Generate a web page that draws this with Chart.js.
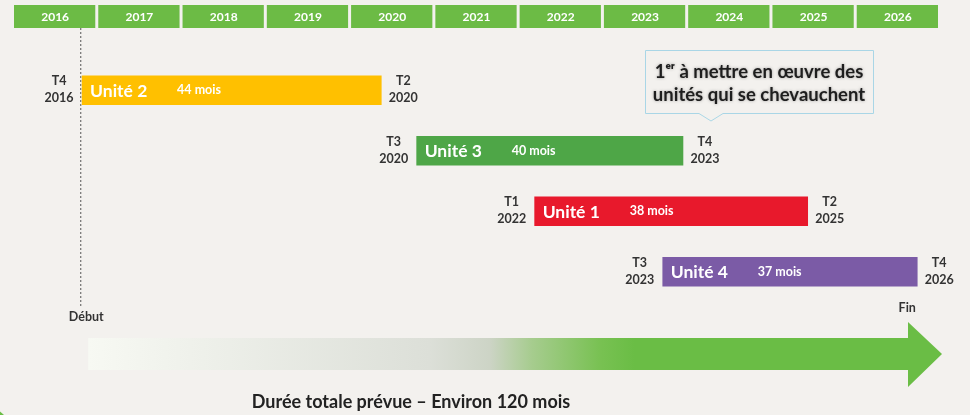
<!DOCTYPE html>
<html lang="fr">
<head>
<meta charset="utf-8">
<script src="https://cdn.jsdelivr.net/npm/chart.js@4/dist/chart.umd.min.js"></script>
<style>
body{margin:0;background:#f3f1ee;}
#wrap{width:970px;height:415px;position:relative;}
</style>
</head>
<body>
<div id="wrap"><canvas id="planning"></canvas></div>
<script>
var annees = [2016,2017,2018,2019,2020,2021,2022,2023,2024,2025,2026];
var unites = ['Unité 2','Unité 3','Unité 1','Unité 4'];
var debuts = [2016.82, 2020.79, 2022.19, 2023.71];
var fins = [2020.37, 2023.95, 2025.43, 2026.73];
var durees = [44, 40, 38, 37];
var etiquettesDebut = [['T4','2016'],['T3','2020'],['T1','2022'],['T3','2023']];
var etiquettesFin = [['T2','2020'],['T4','2023'],['T2','2025'],['T4','2026']];
var couleurs = ['#ffc000','#4ea647','#e8192c','#7b5ba6'];
var jalonDebut = 2016.81;
var jalonFin = 2026.73;
var bulle = ['1\u1d49\u02b3 à mettre en œuvre des','unités qui se chevauchent'];
var titreBas = 'Durée totale prévue – Environ 120 mois';

var police = 'Lato, "Open Sans", sans-serif';

var fond = {
  id: 'fond',
  beforeDatasetsDraw: function(chart){
    var ctx = chart.ctx, x = chart.scales.x;
    ctx.save();
    // bandeau des années
    annees.forEach(function(a){
      var x0 = x.getPixelForValue(a), x1 = x.getPixelForValue(a+1);
      ctx.fillStyle = '#6cbb45';
      ctx.fillRect(x0+1, 5, x1-x0-3, 23);
      ctx.fillStyle = '#ffffff';
      ctx.font = 'bold 12px ' + police;
      ctx.textAlign = 'center';
      ctx.textBaseline = 'middle';
      ctx.fillText(a, (x0+x1)/2, 17);
    });
    // ligne pointillée du début
    var xd = x.getPixelForValue(jalonDebut);
    ctx.strokeStyle = '#555';
    ctx.lineWidth = 1;
    ctx.setLineDash([2,2]);
    ctx.beginPath(); ctx.moveTo(xd-0.5, 28); ctx.lineTo(xd-0.5, 307); ctx.stroke();
    ctx.setLineDash([]);
    ctx.fillStyle = '#333';
    ctx.font = 'bold 12.5px ' + police;
    ctx.textAlign = 'center';
    ctx.fillText('Début', xd+5, 317);
    var xf = x.getPixelForValue(jalonFin);
    ctx.fillText('Fin', xf-10, 308);
    // flèche
    var xa = xd + 7, xt = x.getPixelForValue(2027) + 2, xb = xt - 34;
    var g = ctx.createLinearGradient(xa, 0, xt, 0);
    g.addColorStop(0, '#f7f9f3');
    g.addColorStop(0.12, '#eff1eb');
    g.addColorStop(0.4, '#dcdfd8');
    g.addColorStop(0.47, '#cdd4c6');
    g.addColorStop(0.52, '#a6cc8e');
    g.addColorStop(0.6, '#78c152');
    g.addColorStop(0.64, '#6abd45');
    g.addColorStop(1, '#6abd45');
    ctx.fillStyle = g;
    ctx.beginPath();
    ctx.moveTo(xa, 338); ctx.lineTo(xb, 338); ctx.lineTo(xb, 322);
    ctx.lineTo(xt, 354); ctx.lineTo(xb, 387); ctx.lineTo(xb, 370);
    ctx.lineTo(xa, 370); ctx.closePath(); ctx.fill();
    // titre du bas
    ctx.fillStyle = '#222';
    ctx.font = 'bold 18px ' + police;
    ctx.textAlign = 'center';
    ctx.fillText(titreBas, 411, 402);
    // bulle
    ctx.strokeStyle = '#a9d6e6';
    ctx.fillStyle = '#f3f1ee';
    ctx.beginPath();
    ctx.moveTo(645.5, 50.5); ctx.lineTo(873.5, 50.5); ctx.lineTo(873.5, 113.5);
    ctx.lineTo(723, 113.5); ctx.lineTo(711, 121); ctx.lineTo(699, 113.5);
    ctx.lineTo(645.5, 113.5); ctx.closePath(); ctx.fill(); ctx.stroke();
    ctx.font = 'bold 18.5px ' + police;
    ctx.fillStyle = '#1e1e1e';
    ctx.shadowColor = 'rgba(0,0,0,0.35)';
    ctx.shadowBlur = 3;
    ctx.fillText(bulle[0], 759, 72);
    ctx.fillText(bulle[1], 759, 95);
    ctx.restore();
    // coin vert
    ctx.save();
    ctx.fillStyle = '#6abd45';
    ctx.beginPath(); ctx.arc(-22, 440, 36, 0, Math.PI*2); ctx.fill();
    ctx.restore();
  }
};

var etiquettes = {
  id: 'etiquettes',
  afterDatasetsDraw: function(chart){
    var ctx = chart.ctx;
    ctx.save();
    chart.getDatasetMeta(0).data.forEach(function(b, i){
      var x0 = Math.min(b.base, b.x), x1 = Math.max(b.base, b.x), y = b.y;
      ctx.textBaseline = 'middle';
      ctx.textAlign = 'left';
      ctx.fillStyle = '#ffffff';
      ctx.font = 'bold 17.5px ' + police;
      ctx.fillText(unites[i], x0+8, y+1);
      ctx.font = 'bold 12.5px ' + police;
      ctx.fillText(durees[i] + ' mois', x0+95, y);
      ctx.fillStyle = '#333';
      ctx.font = 'bold 12.5px ' + police;
      ctx.textAlign = 'center';
      ctx.fillText(etiquettesDebut[i][0], x0-23, y-9);
      ctx.fillText(etiquettesDebut[i][1], x0-23, y+8);
      ctx.fillText(etiquettesFin[i][0], x1+22, y-9);
      ctx.fillText(etiquettesFin[i][1], x1+22, y+8);
    });
    ctx.restore();
  }
};

new Chart(document.getElementById('planning'), {
  type: 'bar',
  data: {
    labels: unites,
    datasets: [{
      data: unites.map(function(u, i){ return [debuts[i], fins[i]]; }),
      backgroundColor: couleurs,
      borderWidth: 0,
      borderSkipped: false,
      barThickness: 29
    }]
  },
  options: {
    indexAxis: 'y',
    responsive: true,
    maintainAspectRatio: false,
    animation: false,
    layout: { padding: { left: 13, right: 30, top: 60, bottom: 113 } },
    scales: {
      x: { display: false, min: 2016, max: 2027 },
      y: { display: false }
    },
    plugins: { legend: { display: false }, tooltip: { enabled: false } }
  },
  plugins: [fond, etiquettes]
});
</script>
</body>
</html>
